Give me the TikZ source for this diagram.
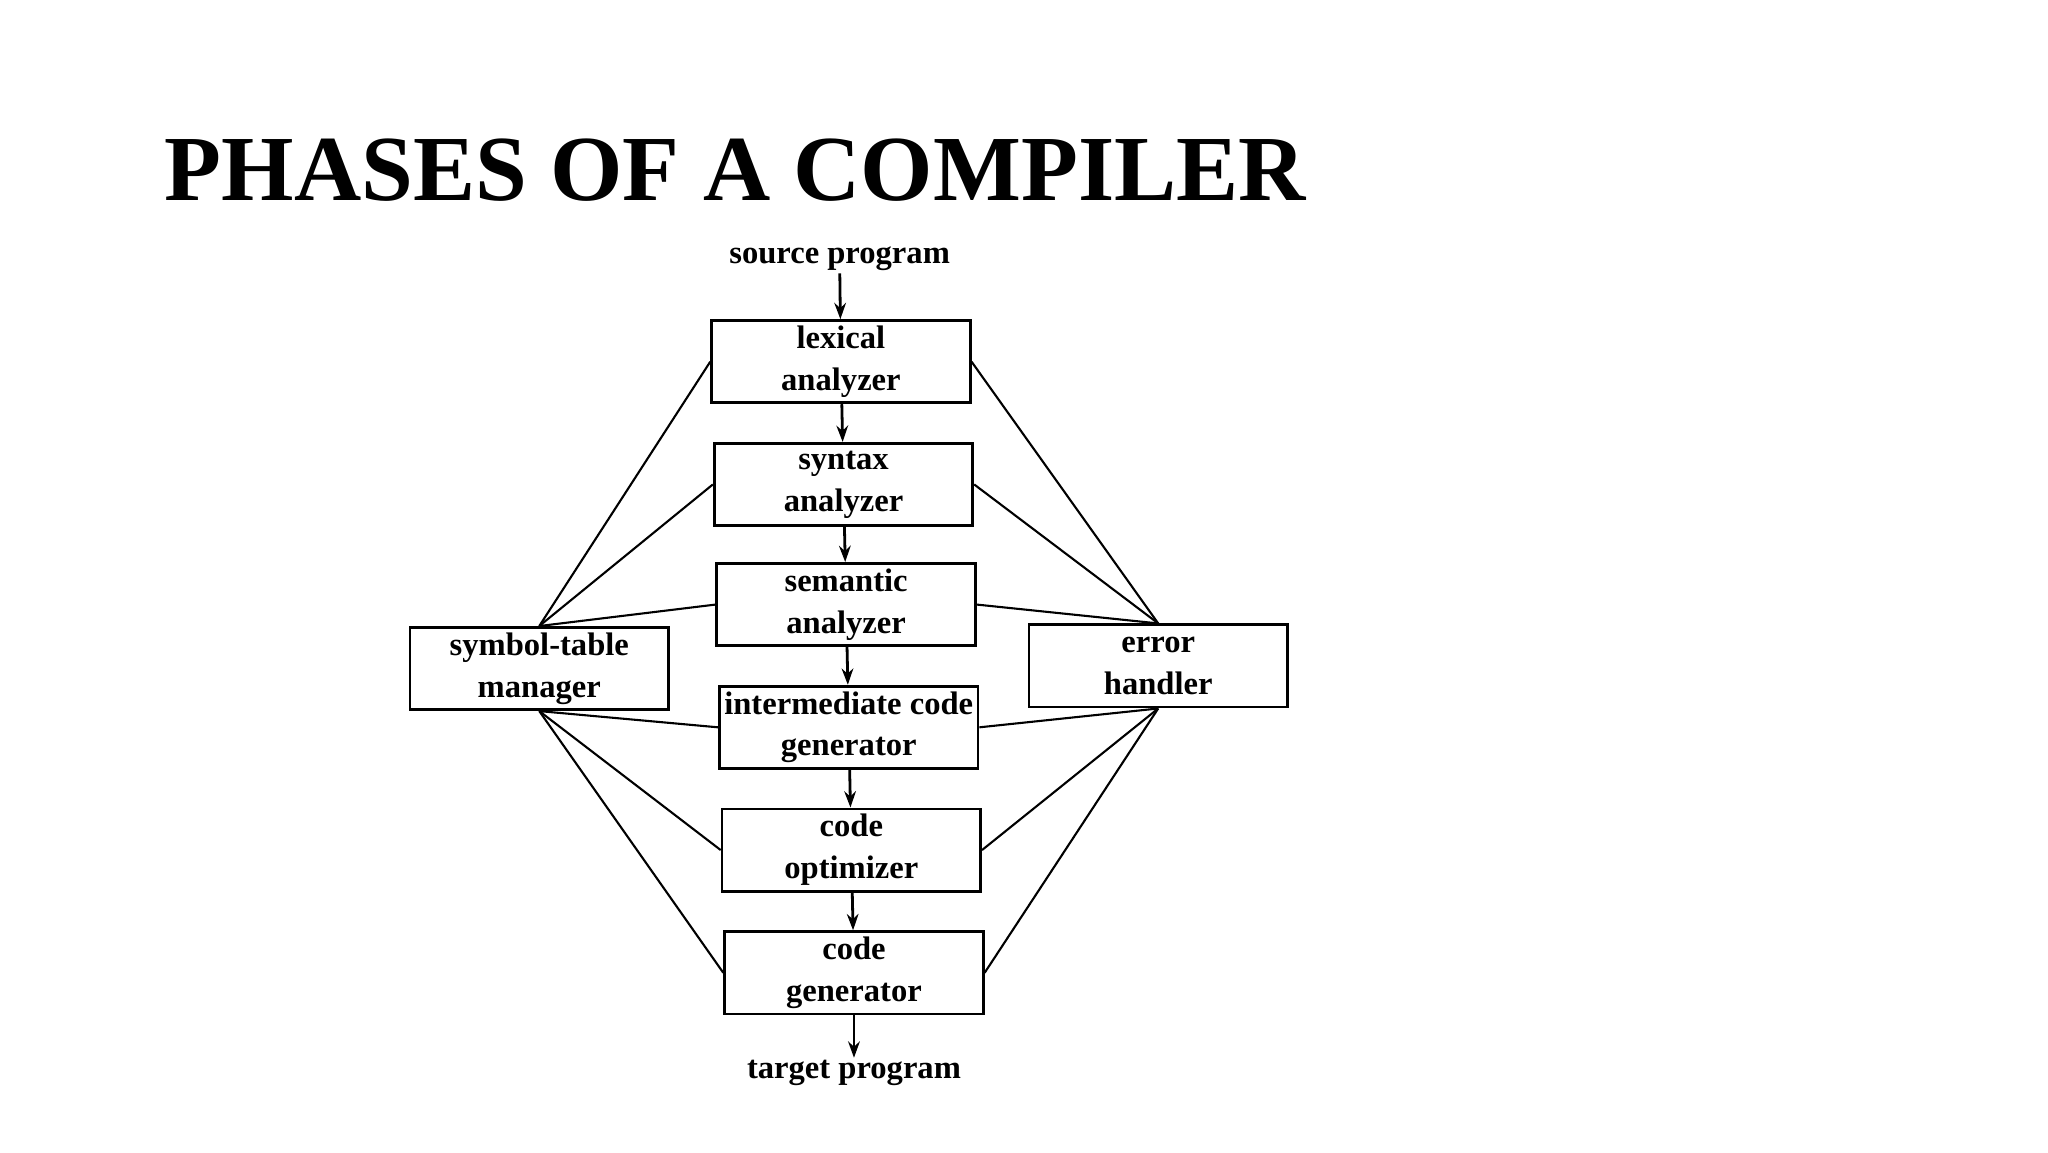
\documentclass[tikz,border=0pt]{standalone}
\usepackage{fontspec}
\setmainfont{Liberation Serif}
\usetikzlibrary{arrows.meta}
\begin{document}
\begin{tikzpicture}[x=0.01972cm,y=-0.01972cm,
  box/.style={draw,line width=1.2pt,minimum width=198*0.01972cm,minimum height=63*0.01972cm,align=center,font=\fontsize{14}{15}\selectfont\bfseries,inner sep=0pt},
  lbl/.style={font=\fontsize{14}{16}\selectfont\bfseries,inner sep=1pt},
  arr/.style={line width=1.2pt,-{Stealth[length=7pt,width=5pt]}},
  ln/.style={line width=0.9pt}]
\useasboundingbox (0cm,0cm) rectangle (30.92cm,-17.4cm);
\node[anchor=west,font=\fontsize{40}{44}\selectfont\bfseries] (title) at (120,130) {PHASES OF A COMPILER};
\node[lbl] (src) at (643,198) {source program};
\node[box] (lex) at (644,277) {lexical\\[3pt]analyzer};
\node[box] (syn) at (646,371) {syntax\\[3pt]analyzer};
\node[box] (sem) at (648,463) {semantic\\[3pt]analyzer};
\node[box] (icg) at (650,557) {intermediate code\\[3pt]generator};
\node[box] (opt) at (652,651) {code\\[3pt]optimizer};
\node[box] (gen) at (654,745) {code\\[3pt]generator};
\node[lbl] (tgt) at (654,822) {target program};
\node[box] (sym) at (413,512) {symbol-table\\[3pt]manager};
\node[box] (err) at (887,510) {error\\[3pt]handler};
\draw[arr] (src) -- (lex);
\draw[arr] (lex) -- (syn);
\draw[arr] (syn) -- (sem);
\draw[arr] (sem) -- (icg);
\draw[arr] (icg) -- (opt);
\draw[arr] (opt) -- (gen);
\draw[arr] (gen) -- (tgt);
\foreach \b in {lex,syn,sem}{
  \draw[ln] (sym.north) -- (\b.west);
  \draw[ln] (err.north) -- (\b.east);}
\foreach \b in {icg,opt,gen}{
  \draw[ln] (sym.south) -- (\b.west);
  \draw[ln] (err.south) -- (\b.east);}
\end{tikzpicture}
\end{document}
